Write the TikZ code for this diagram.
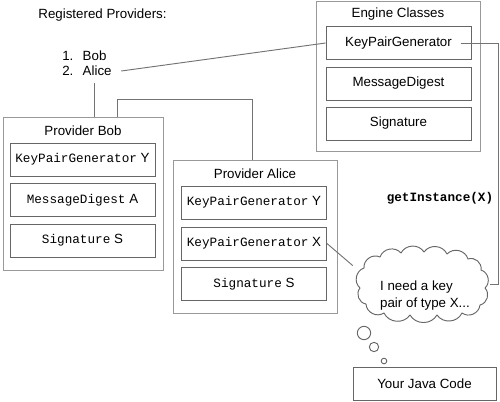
\documentclass[tikz,border=0pt]{standalone}
\usepackage{fontspec}
\setmainfont{Liberation Sans}
\setmonofont{Liberation Mono}
\usepackage{tikz}
\tikzset{
  obox/.style  = {rectangle, draw=black!40, line width=0.7pt, inner sep=0pt,
                  minimum width=120pt, minimum height=114.75pt},
  ibox/.style  = {rectangle, draw=black!60, line width=0.7pt, inner sep=0pt,
                  minimum width=108.75pt, minimum height=24.75pt, align=center},
  ttl/.style   = {inner sep=0pt, anchor=base},
  conn/.style  = {draw=black!55, line width=0.7pt},
  bubble/.style= {circle, draw=black!60, line width=0.7pt, inner sep=0pt},
  puff/.style  = {draw=black!60, line width=0.7pt, line join=round},
}
\newcommand{\cls}[2]{{\ttfamily\fontsize{9.5}{11}\selectfont #1} #2}

\begin{document}
\begin{tikzpicture}[x=0.75pt, y=-0.75pt, font=\fontsize{10}{12}\selectfont]
  \useasboundingbox (0,0) rectangle (500,401);

  % provider list
  \node (reg) at (102.5,15) {Registered Providers:};
  \node[anchor=west, inner sep=0pt] (pbob)   at (62,56)   {1.\hspace{0.7em}Bob};
  \node[anchor=west, inner sep=0pt] (palice) at (62,71)   {2.\hspace{0.7em}Alice};

  % engine classes
  \node[obox, minimum width=123pt, minimum height=112.5pt] (eng) at (398,76) {};
  \node[ttl] (engt) at (398,17.5) {Engine Classes};
  \node[ibox] (ekpg) at (398.5,43)   {KeyPairGenerator};
  \node[ibox] (emd)  at (398.5,83.5) {MessageDigest};
  \node[ibox] (esig) at (398.5,123.5) {Signature};

  % provider Bob
  \node[obox] (bob) at (83,193.5) {};
  \node[ttl] (bobt) at (83,135) {Provider Bob};
  \node[ibox] (bkpg) at (82.5,159.5) {\cls{KeyPairGenerator}{Y}};
  \node[ibox] (bmd)  at (82.5,200)   {\cls{MessageDigest}{A}};
  \node[ibox] (bsig) at (82.5,240.5) {\cls{Signature}{S}};

  % provider Alice
  \node[obox, minimum width=123pt] (alice) at (255,236.5) {};
  \node[ttl] (alicet) at (255,178) {Provider Alice};
  \node[ibox] (akpgy) at (254,202.5) {\cls{KeyPairGenerator}{Y}};
  \node[ibox] (akpgx) at (254,243.5) {\cls{KeyPairGenerator}{X}};
  \node[ibox] (asig)  at (254,284)   {\cls{Signature}{S}};

  % the application (thought cloud)
  \node[rectangle, inner sep=0pt, minimum width=102.75pt, minimum height=54pt] (thought) at (421.5,284) {};
  \draw[puff] (360,288)
    \foreach \x/\y in {364/268, 380/257, 401/253, 424/252, 447/254, 468/259, 481/270,
                       485/288, 480/305, 462/313, 437/315, 410/315, 384/313, 366/304, 360/288} {
      to[bend left=60, looseness=1.1] (\x,\y) };
  \node[align=left, font=\fontsize{10}{12.75}\selectfont] (need) at (425,296)
    {I need a key\\pair of type X...};
  \foreach \i/\x/\y/\d in {1/364/333/10pt, 2/374/347/7pt, 3/384/361/4.2pt}
    \node[bubble, minimum size=\d] (bub\i) at (\x,\y) {};
  \node[rectangle, draw=black!60, line width=0.7pt, minimum width=107.25pt,
        minimum height=24.75pt] (java) at (424.5,383.5) {Your Java Code};
  \node (gi) at (440,198) {\ttfamily\bfseries\fontsize{9.5}{11}\selectfont getInstance(X)};

  % connectors
  \draw[conn] ([xshift=7pt]palice.east) -- (ekpg.west);
  \draw[conn] ([shift={(6pt,-5pt)}]palice.south) -- ([xshift=6pt]palice.south |- bob.north);
  \draw[conn] ([xshift=25.5pt]bob.north) -- ++(0,-17) -| ([xshift=-2.25pt]alice.north);
  \draw[conn] ([xshift=-8pt]ekpg.east) -- ++(38,0) |- (thought.east);
  \draw[conn] (akpgx.east) -- (thought.165);
\end{tikzpicture}
\end{document}
